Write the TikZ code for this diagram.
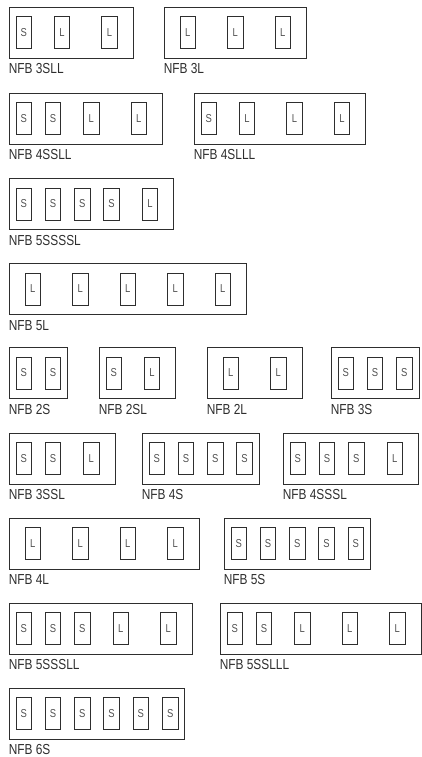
\documentclass[tikz,border=0pt]{standalone}
\usepackage{fontspec}
\setmainfont{Liberation Sans}
\newfontfamily\nfbfont[FakeStretch=0.82]{Liberation Sans}
\usepackage{tikz}
\usetikzlibrary{positioning,fit}
\definecolor{inkgray}{HTML}{2E2E2E}
\definecolor{lettergray}{HTML}{505050}
% cell pitch for short (S) and long (L) fuse holders
\def\cellwS{29.3}
\def\cellwL{47.5}
% #1 name, #2 left, #3 top, #4 cells, #5 label
\newcommand{\nfbstrip}[5]{%
  \xdef\stripx{#2}%
  \foreach \cell [count=\i] in {#4} {
    \pgfmathsetmacro\nx{\stripx+\csname cellw\cell\endcsname}
    \node[cellbox] (#1-\i) at ({(\stripx+\nx)/2},{#3+25.5}) {\cell};
    \xdef\stripx{\nx}
  }
  \coordinate (#1-end) at (\stripx,{#3+51});
  \node[stripbox, fit={(#2,#3) (#1-end)}] (#1) {};
  \node[nfblabel, anchor=base west] (#1-lab) at ([yshift=-15.5pt]#1.south west) {#5};
}

\begin{document}
\begin{tikzpicture}[
  x=1pt, y=-1pt,
  stripbox/.style={draw=inkgray, line width=0.8pt, inner sep=0pt},
  cellbox/.style={draw=inkgray, line width=0.8pt, minimum width=15.5pt, minimum height=32pt, inner sep=0pt, text=lettergray, font=\nfbfont\fontsize{11.5}{12}\selectfont},
  nfblabel/.style={inner sep=0pt, text=inkgray, font=\nfbfont\fontsize{14.5}{16}\selectfont}
]
\fill[white] (0,0) rectangle (421,757);
\useasboundingbox (0,0) rectangle (421,757);

% Row 1
\nfbstrip{s3sll}{9}{7}{S,L,L}{NFB 3SLL}
\nfbstrip{s3l}{164}{7}{L,L,L}{NFB 3L}
% Row 2
\nfbstrip{s4ssll}{9}{93}{S,S,L,L}{NFB 4SSLL}
\nfbstrip{s4slll}{194}{93}{S,L,L,L}{NFB 4SLLL}
% Row 3
\nfbstrip{s5ssssl}{9}{178.5}{S,S,S,S,L}{NFB 5SSSSL}
% Row 4
\nfbstrip{s5l}{9}{263.5}{L,L,L,L,L}{NFB 5L}
% Row 5
\nfbstrip{s2s}{9}{347.5}{S,S}{NFB 2S}
\nfbstrip{s2sl}{99}{347.5}{S,L}{NFB 2SL}
\nfbstrip{s2l}{207}{347.5}{L,L}{NFB 2L}
\nfbstrip{s3s}{331}{347.5}{S,S,S}{NFB 3S}
% Row 6
\nfbstrip{s3ssl}{9}{433}{S,S,L}{NFB 3SSL}
\nfbstrip{s4s}{142}{433}{S,S,S,S}{NFB 4S}
\nfbstrip{s4sssl}{283}{433}{S,S,S,L}{NFB 4SSSL}
% Row 7
\nfbstrip{s4l}{9}{518}{L,L,L,L}{NFB 4L}
\nfbstrip{s5s}{224}{518}{S,S,S,S,S}{NFB 5S}
% Row 8
\nfbstrip{s5sssll}{9}{603}{S,S,S,L,L}{NFB 5SSSLL}
\nfbstrip{s5sslll}{220}{603}{S,S,L,L,L}{NFB 5SSLLL}
% Row 9
\nfbstrip{s6s}{9}{688}{S,S,S,S,S,S}{NFB 6S}

\end{tikzpicture}
\end{document}
